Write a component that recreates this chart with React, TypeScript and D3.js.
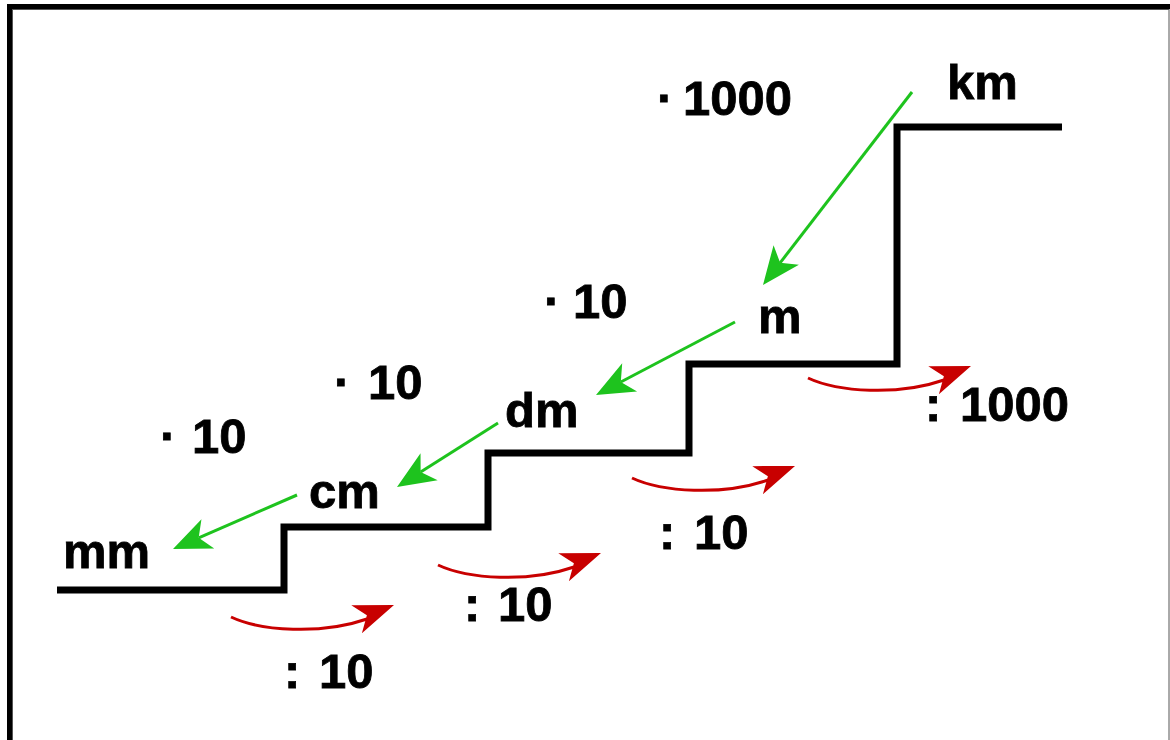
import React from 'react';
import * as d3 from 'd3';

// units on the staircase, from the lowest step to the highest
const units = ['mm', 'cm', 'dm', 'm', 'km'];
// power of ten of each unit (in metres)
const exponents = [-3, -2, -1, 0, 3];
// factor between neighbouring units
const factors = [10, 10, 10, 1000];

// layout of the picture
const W = 1170;
const H = 740;
const stepEdgesX = [57, 284, 488, 689, 897, 1062];
const stepLevelsY = [590, 527, 453, 364, 127];
const unitLabelPos: [number, number][] = [[63, 568], [309, 508], [505, 427], [758, 333], [947, 99]];
// green arrows go from unit i+1 down to unit i
const greenFrom: [number, number][] = [[297, 495], [498, 423], [735, 322], [912, 92]];
const greenTo: [number, number][] = [[173, 549], [397, 487], [596, 395], [763, 285]];
// "· f" labels: dot x, number x, baseline
const mulPos: [number, number, number][] = [[163, 192, 453], [337, 368, 399], [547, 573, 318], [660, 683, 115]];
// ": f" labels: colon x, number x, baseline
const divPos: [number, number, number][] = [[287, 319, 688], [467, 498, 621], [662, 694, 549], [928, 960, 421]];
// red curved arrows start points
const redStart: [number, number][] = [[231, 617], [438, 565], [632, 478], [808, 378]];

const GREEN = '#1ec31e';
const RED = '#c80000';
const FONT = '"Liberation Sans", Arial, Helvetica, sans-serif';
const FS = 49;

const x = d3.scaleLinear().domain(d3.range(stepEdgesX.length)).range(stepEdgesX);
const y = d3.scaleLinear().domain(exponents).range(stepLevelsY);

// arrow head polygon with a notch, tip at (tx,ty) pointing along angle a
function head(tx: number, ty: number, a: number, L = 38, w = 16, notch = 10) {
  const c = Math.cos(a), s = Math.sin(a);
  const pt = (along: number, perp: number): [number, number] => [
    tx - along * c - perp * s,
    ty - along * s + perp * c,
  ];
  const pts = [pt(0, 0), pt(L, w), pt(L - notch, 0), pt(L, -w)];
  return 'M' + pts.map(p => p.join(',')).join('L') + 'Z';
}

export default function App() {
  const stairPts: [number, number][] = [];
  units.forEach((_, i) => {
    stairPts.push([x(i), y(exponents[i])]);
    stairPts.push([x(i + 1), y(exponents[i])]);
  });
  const stairPath = d3.line()(stairPts) || '';

  const redCurve = d3.path();
  redCurve.moveTo(0, 0);
  redCurve.bezierCurveTo(30, 14, 90, 18, 136, 2);
  const redTip: [number, number] = [163, -12];
  const redAngle = Math.atan2(-14, 37);

  return (
    <svg width={W} height={H} style={{ position: 'absolute', left: 0, top: 0, background: '#fff' }}
      fontFamily={FONT} fontWeight="bold" fontSize={FS}>
      {/* frame */}
      <rect x={9.5} y={6.5} width={W + 20} height={H + 20} fill="none" stroke="#000" strokeWidth={5} />
      <rect x={12.5} y={9.5} width={1156.5} height={H + 20} fill="none" stroke="#555" strokeWidth={1} />

      {/* staircase */}
      <path d={stairPath} fill="none" stroke="#000" strokeWidth={7} strokeLinejoin="miter" strokeLinecap="butt" />

      <g fill="#000" stroke="#000" strokeWidth={0.8}>
        {/* unit labels */}
        {units.map((u, i) => (
          <text key={u} x={unitLabelPos[i][0]} y={unitLabelPos[i][1]}>{u}</text>
        ))}
        {/* multiply labels */}
        {factors.map((f, i) => (
          <text key={'m' + i} y={mulPos[i][2]}>
            <tspan x={mulPos[i][0] - 3}>·</tspan>
            <tspan x={mulPos[i][1]}>{f}</tspan>
          </text>
        ))}
        {/* divide labels */}
        {factors.map((f, i) => (
          <text key={'d' + i} y={divPos[i][2]}>
            <tspan x={divPos[i][0] - 3}>:</tspan>
            <tspan x={divPos[i][1]}>{f}</tspan>
          </text>
        ))}
      </g>

      {/* green arrows: multiply */}
      {factors.map((_, i) => {
        const [x1, y1] = greenFrom[i];
        const [x2, y2] = greenTo[i];
        const a = Math.atan2(y2 - y1, x2 - x1);
        const ex = x2 - 28 * Math.cos(a);
        const ey = y2 - 28 * Math.sin(a);
        return (
          <g key={'g' + i}>
            <line x1={x1} y1={y1} x2={ex} y2={ey} stroke={GREEN} strokeWidth={3} />
            <path d={head(x2, y2, a)} fill={GREEN} />
          </g>
        );
      })}

      {/* red arrows: divide */}
      {factors.map((_, i) => (
        <g key={'r' + i} transform={`translate(${redStart[i][0]},${redStart[i][1]})`}>
          <path d={redCurve.toString()} fill="none" stroke={RED} strokeWidth={3} />
          <path d={head(redTip[0], redTip[1], redAngle, 40, 15, 11)} fill={RED} />
        </g>
      ))}
    </svg>
  );
}
